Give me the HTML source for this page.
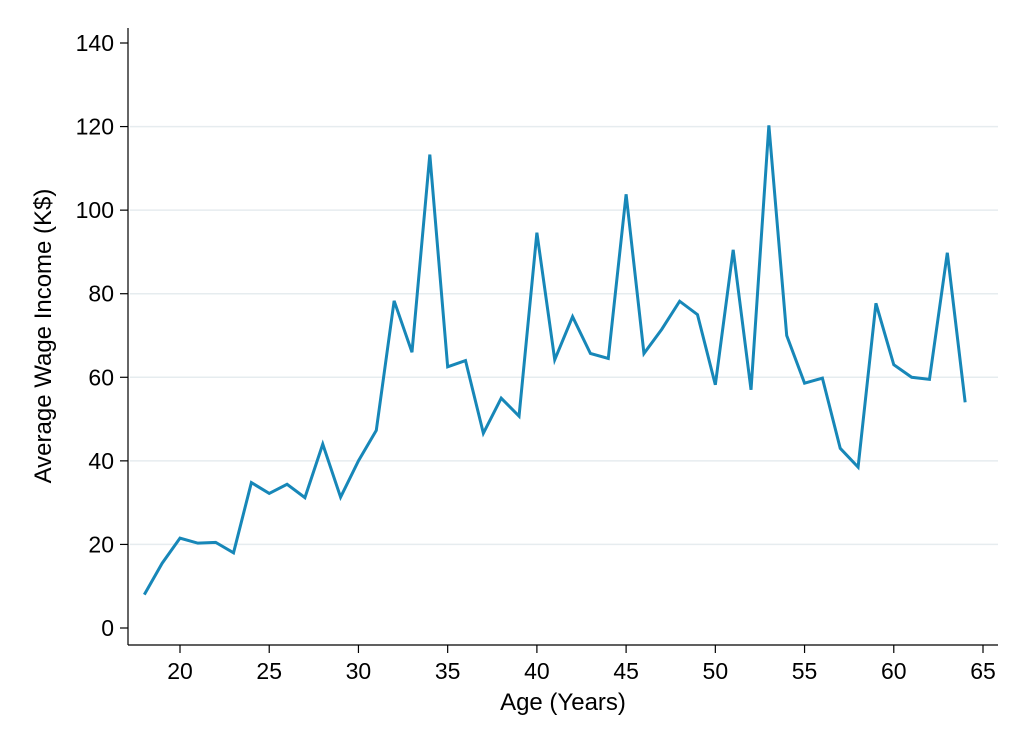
<!DOCTYPE html>
<html><head><meta charset="utf-8"><style>
body{margin:0;background:#fff;}
svg{display:block;font-family:"Liberation Sans",sans-serif;}
</style></head><body>
<svg id="chart" width="1026" height="746" viewBox="0 0 1026 746"></svg>
<script>
const ages=[18,19,20,21,22,23,24,25,26,27,28,29,30,31,32,33,34,35,36,37,38,39,40,41,42,43,44,45,46,47,48,49,50,51,52,53,54,55,56,57,58,59,60,61,62,63,64];
const wages=[8,15.5,21.5,20.3,20.5,18,34.8,32.2,34.4,31.2,44,31.3,40,47.3,78.3,66,113.3,62.5,64,46.6,55,50.7,94.6,64.2,74.5,65.7,64.5,103.8,65.7,71.5,78.2,75,58.2,90.5,57,120.3,70,58.6,59.8,43,38.5,77.7,63,60,59.5,89.8,54];
const yTicks=[0,20,40,60,80,100,120,140];
const xTicks=[20,25,30,35,40,45,50,55,60,65];
const NS="http://www.w3.org/2000/svg";
const svg=document.getElementById('chart');
const xS=v=>180+(v-20)*(983-180)/45;
const yS=v=>628-v*(628-43)/140;
function mk(t,a,txt){const e=document.createElementNS(NS,t);for(const k in a)e.setAttribute(k,a[k]);if(txt!==undefined)e.textContent=txt;svg.appendChild(e);return e;}
yTicks.forEach(v=>{
 if(v>0&&v<140){const g=mk('line',{x1:130,x2:998,y1:yS(v),y2:yS(v),stroke:'#e6ecef','stroke-width':1.5});
 
 }
 const t=mk('line',{x1:120,x2:128,y1:yS(v),y2:yS(v),stroke:'#000','stroke-width':1.2});
 
 
 const l=mk('text',{x:114,y:yS(v)+8,'text-anchor':'end','font-size':23},v);
 
 
});
xTicks.forEach(v=>{
 const t=mk('line',{x1:xS(v),x2:xS(v),y1:645,y2:653,stroke:'#000','stroke-width':1.2});
 
 
 const l=mk('text',{x:xS(v),y:679,'text-anchor':'middle','font-size':23},v);
 
 
});
const ya=mk('line',{x1:128,x2:128,y1:28,y2:645,stroke:'#000','stroke-width':1.2});


const xa=mk('line',{x1:128,x2:998,y1:645,y2:645,stroke:'#000','stroke-width':1.2});


const pl=mk('polyline',{points:ages.map((a,i)=>xS(a)+','+yS(wages[i])).join(' '),fill:'none',stroke:'#1787b8','stroke-width':3,'stroke-linejoin':'miter'});


const xt=mk('text',{x:563,y:710,'text-anchor':'middle','font-size':24},'Age (Years)');


const yt=mk('text',{x:0,y:0,'text-anchor':'middle','font-size':24,transform:'translate(51,336) rotate(-90)'},'Average Wage Income (K$)');


</script>
</body></html>
